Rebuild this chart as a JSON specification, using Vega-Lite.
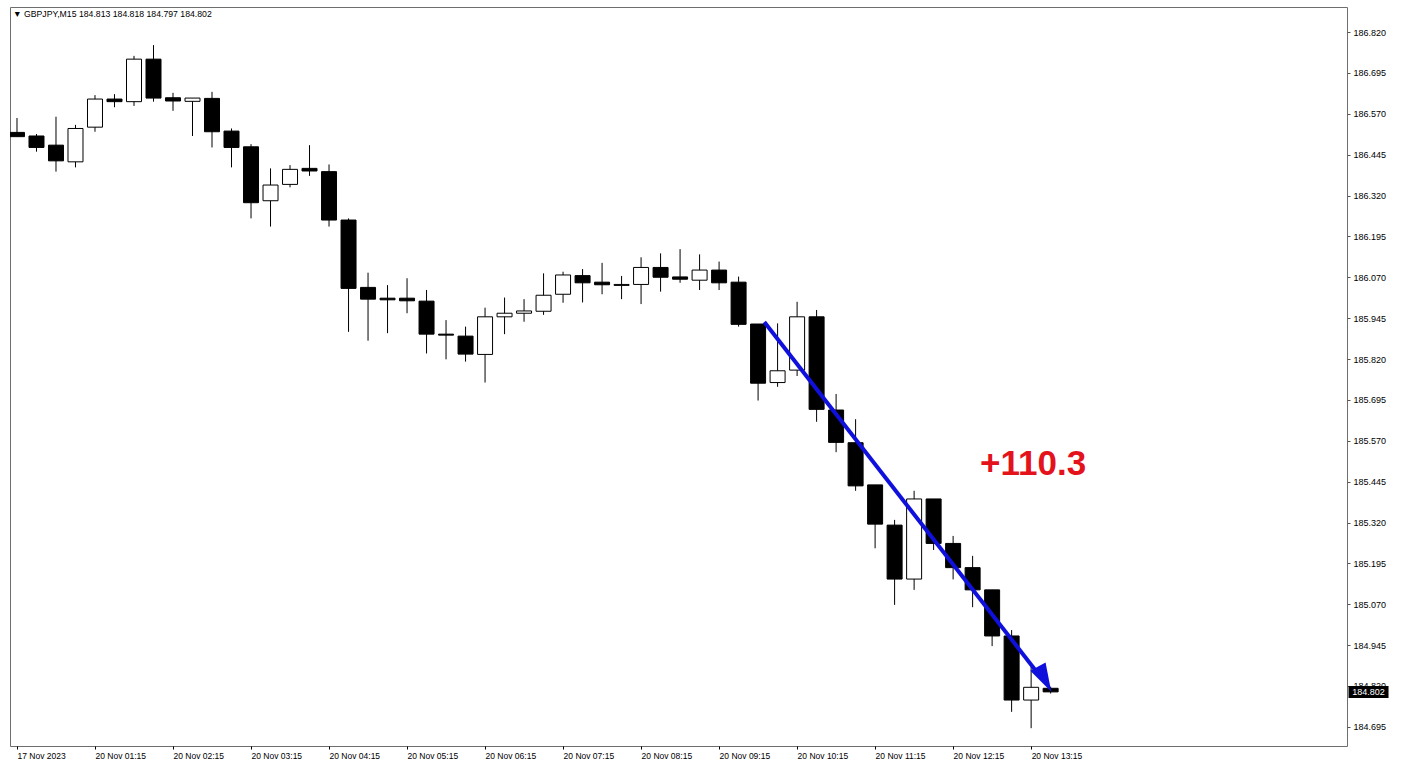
{
  "$schema": "https://vega.github.io/schema/vega-lite/v6.json",
  "width": 1337,
  "height": 739,
  "autosize": {"type": "none"},
  "padding": {"left": 10, "top": 7, "right": 58, "bottom": 29},
  "background": "white",
  "config": {"view": {"stroke": "#6e6e6e", "strokeWidth": 1}, "font": "Liberation Sans"},
  "title": {
    "text": "▼ GBPJPY,M15  184.813 184.818 184.797 184.802",
    "anchor": "start",
    "frame": "group",
    "baseline": "middle",
    "offset": -8,
    "dx": 3,
    "dy": 8,
    "fontSize": 8.7,
    "fontWeight": "normal",
    "font": "Liberation Sans",
    "color": "#000"
  },
  "datasets": {
    "candles": [
      {"i": 0, "open": 186.513, "high": 186.557, "low": 186.500, "close": 186.500},
      {"i": 1, "open": 186.502, "high": 186.508, "low": 186.454, "close": 186.467},
      {"i": 2, "open": 186.474, "high": 186.561, "low": 186.393, "close": 186.426},
      {"i": 3, "open": 186.423, "high": 186.536, "low": 186.406, "close": 186.525},
      {"i": 4, "open": 186.529, "high": 186.627, "low": 186.515, "close": 186.615},
      {"i": 5, "open": 186.615, "high": 186.630, "low": 186.590, "close": 186.607},
      {"i": 6, "open": 186.607, "high": 186.747, "low": 186.594, "close": 186.737},
      {"i": 7, "open": 186.737, "high": 186.780, "low": 186.607, "close": 186.618},
      {"i": 8, "open": 186.619, "high": 186.634, "low": 186.579, "close": 186.609},
      {"i": 9, "open": 186.608, "high": 186.618, "low": 186.502, "close": 186.618},
      {"i": 10, "open": 186.617, "high": 186.637, "low": 186.467, "close": 186.515},
      {"i": 11, "open": 186.517, "high": 186.525, "low": 186.406, "close": 186.467},
      {"i": 12, "open": 186.469, "high": 186.477, "low": 186.250, "close": 186.298},
      {"i": 13, "open": 186.304, "high": 186.403, "low": 186.225, "close": 186.352},
      {"i": 14, "open": 186.354, "high": 186.413, "low": 186.345, "close": 186.400},
      {"i": 15, "open": 186.403, "high": 186.474, "low": 186.380, "close": 186.395},
      {"i": 16, "open": 186.393, "high": 186.415, "low": 186.225, "close": 186.245},
      {"i": 17, "open": 186.245, "high": 186.250, "low": 185.903, "close": 186.036},
      {"i": 18, "open": 186.039, "high": 186.084, "low": 185.876, "close": 186.003},
      {"i": 19, "open": 186.006, "high": 186.046, "low": 185.899, "close": 186.001},
      {"i": 20, "open": 186.006, "high": 186.067, "low": 185.960, "close": 185.998},
      {"i": 21, "open": 185.997, "high": 186.031, "low": 185.837, "close": 185.896},
      {"i": 22, "open": 185.896, "high": 185.939, "low": 185.819, "close": 185.893},
      {"i": 23, "open": 185.890, "high": 185.919, "low": 185.812, "close": 185.835},
      {"i": 24, "open": 185.834, "high": 185.977, "low": 185.748, "close": 185.949},
      {"i": 25, "open": 185.949, "high": 186.008, "low": 185.896, "close": 185.960},
      {"i": 26, "open": 185.960, "high": 186.003, "low": 185.934, "close": 185.967},
      {"i": 27, "open": 185.966, "high": 186.082, "low": 185.955, "close": 186.015},
      {"i": 28, "open": 186.018, "high": 186.087, "low": 185.992, "close": 186.077},
      {"i": 29, "open": 186.075, "high": 186.095, "low": 185.993, "close": 186.053},
      {"i": 30, "open": 186.055, "high": 186.114, "low": 186.018, "close": 186.047},
      {"i": 31, "open": 186.045, "high": 186.074, "low": 186.003, "close": 186.048},
      {"i": 32, "open": 186.048, "high": 186.131, "low": 185.988, "close": 186.100},
      {"i": 33, "open": 186.100, "high": 186.143, "low": 186.026, "close": 186.070},
      {"i": 34, "open": 186.071, "high": 186.156, "low": 186.053, "close": 186.064},
      {"i": 35, "open": 186.061, "high": 186.140, "low": 186.031, "close": 186.092},
      {"i": 36, "open": 186.092, "high": 186.118, "low": 186.031, "close": 186.053},
      {"i": 37, "open": 186.055, "high": 186.072, "low": 185.919, "close": 185.926},
      {"i": 38, "open": 185.927, "high": 185.927, "low": 185.693, "close": 185.746},
      {"i": 39, "open": 185.748, "high": 185.929, "low": 185.735, "close": 185.784},
      {"i": 40, "open": 185.786, "high": 185.995, "low": 185.768, "close": 185.949},
      {"i": 41, "open": 185.949, "high": 185.970, "low": 185.628, "close": 185.666},
      {"i": 42, "open": 185.664, "high": 185.713, "low": 185.535, "close": 185.565},
      {"i": 43, "open": 185.564, "high": 185.636, "low": 185.417, "close": 185.432},
      {"i": 44, "open": 185.435, "high": 185.435, "low": 185.241, "close": 185.315},
      {"i": 45, "open": 185.312, "high": 185.328, "low": 185.068, "close": 185.147},
      {"i": 46, "open": 185.147, "high": 185.417, "low": 185.114, "close": 185.392},
      {"i": 47, "open": 185.392, "high": 185.392, "low": 185.236, "close": 185.256},
      {"i": 48, "open": 185.256, "high": 185.279, "low": 185.146, "close": 185.182},
      {"i": 49, "open": 185.182, "high": 185.218, "low": 185.061, "close": 185.114},
      {"i": 50, "open": 185.114, "high": 185.114, "low": 184.942, "close": 184.973},
      {"i": 51, "open": 184.973, "high": 184.991, "low": 184.741, "close": 184.777},
      {"i": 52, "open": 184.777, "high": 184.879, "low": 184.691, "close": 184.816},
      {"i": 53, "open": 184.813, "high": 184.818, "low": 184.797, "close": 184.802}
    ],
    "current": [{"price": 184.802, "label": "184.802"}],
    "note": [{"label": "+110.3"}]
  },
  "layer": [
    {
      "data": {"name": "candles"},
      "mark": {"type": "rule", "clip": true, "color": "#000", "strokeWidth": 1},
      "encoding": {
        "x": {
          "field": "i",
          "type": "quantitative",
          "scale": {"domain": [-0.1018, 67.94], "nice": false, "zero": false},
          "axis": {
            "title": null,
            "values": [0, 4, 8, 12, 16, 20, 24, 28, 32, 36, 40, 44, 48, 52],
            "labelExpr": "['17 Nov 2023','20 Nov 01:15','20 Nov 02:15','20 Nov 03:15','20 Nov 04:15','20 Nov 05:15','20 Nov 06:15','20 Nov 07:15','20 Nov 08:15','20 Nov 09:15','20 Nov 10:15','20 Nov 11:15','20 Nov 12:15','20 Nov 13:15'][round(datum.value/4)]",
            "labelAlign": "left",
            "labelBaseline": "top",
            "labelPadding": 2,
            "labelFlush": false,
            "labelOverlap": false,
            "labelFontSize": 8.5,
            "labelFont": "Liberation Sans",
            "labelColor": "#000",
            "tickSize": 3,
            "tickColor": "#000",
            "domain": false,
            "grid": false
          }
        },
        "y": {
          "field": "low",
          "type": "quantitative",
          "scale": {"domain": [184.6365, 186.8965], "nice": false, "zero": false},
          "axis": {
            "orient": "right",
            "title": null,
            "values": [184.695, 184.82, 184.945, 185.07, 185.195, 185.32, 185.445, 185.57, 185.695, 185.82, 185.945, 186.07, 186.195, 186.32, 186.445, 186.57, 186.695, 186.82],
            "format": ".3f",
            "labelAlign": "left",
            "labelBaseline": "middle",
            "labelPadding": 3,
            "labelFontSize": 9,
            "labelFont": "Liberation Sans",
            "labelColor": "#000",
            "tickSize": 3,
            "tickColor": "#555",
            "domain": false,
            "grid": false
          }
        },
        "y2": {"field": "high"}
      }
    },
    {
      "data": {"name": "candles"},
      "mark": {"type": "bar", "size": 15, "clip": true, "stroke": "#000", "strokeWidth": 1},
      "encoding": {
        "x": {"field": "i", "type": "quantitative"},
        "y": {"field": "open", "type": "quantitative"},
        "y2": {"field": "close"},
        "fill": {
          "condition": {"test": "datum.close < datum.open", "value": "#000"},
          "value": "#fff"
        }
      }
    },
    {
      "data": {"values": [{}]},
      "mark": {"type": "rule", "color": "#1010dd", "strokeWidth": 4, "strokeCap": "butt"},
      "encoding": {
        "x": {"datum": 38.32, "type": "quantitative"},
        "y": {"datum": 185.933, "type": "quantitative"},
        "x2": {"datum": 52.21},
        "y2": {"datum": 184.869}
      }
    },
    {
      "data": {"values": [{}]},
      "mark": {"type": "point", "shape": "M0,-1L0.61,1L-0.61,1Z", "filled": true, "color": "#1010dd", "opacity": 1, "size": 806, "angle": 152},
      "encoding": {
        "x": {"datum": 52.69, "type": "quantitative"},
        "y": {"datum": 184.841, "type": "quantitative"}
      }
    },
    {
      "data": {"name": "note"},
      "mark": {"type": "text", "fontSize": 35, "fontWeight": "bold", "font": "Liberation Sans", "color": "#e3121b", "align": "center", "baseline": "alphabetic"},
      "encoding": {
        "x": {"datum": 52.1, "type": "quantitative"},
        "y": {"datum": 185.465, "type": "quantitative"},
        "text": {"field": "label"}
      }
    },
    {
      "data": {"name": "current"},
      "mark": {"type": "point", "shape": "M-1,-0.3L1,-0.3L1,0.3L-1,0.3Z", "filled": true, "color": "#000", "opacity": 1, "size": 1600},
      "encoding": {
        "x": {"datum": 69.3, "type": "quantitative"},
        "y": {"field": "price", "type": "quantitative"}
      }
    },
    {
      "data": {"name": "current"},
      "mark": {"type": "text", "fontSize": 9, "font": "Liberation Sans", "color": "#fff", "align": "center", "baseline": "middle"},
      "encoding": {
        "x": {"datum": 69.3, "type": "quantitative"},
        "y": {"field": "price", "type": "quantitative"},
        "text": {"field": "label"}
      }
    }
  ]
}
